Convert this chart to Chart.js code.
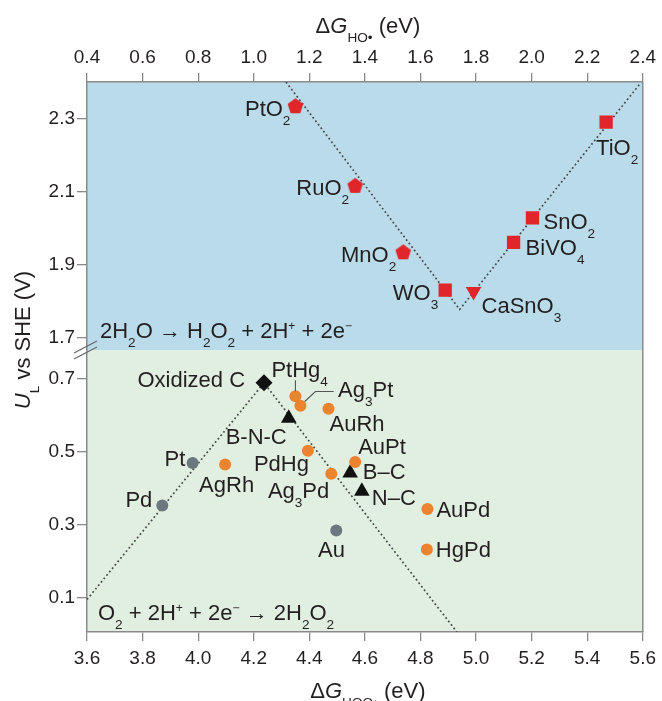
<!DOCTYPE html>
<html><head><meta charset="utf-8">
<script src="https://cdn.jsdelivr.net/npm/chart.js@4/dist/chart.umd.min.js"></script>
<style>html,body{margin:0;padding:0;background:#fff}#wrap{width:662px;height:701px;position:relative}</style>
</head><body><div id="wrap"><canvas id="c" width="662" height="701"></canvas></div>
<script>
// ---------------- data ----------------
const xTopTicks = [0.4, 0.6, 0.8, 1.0, 1.2, 1.4, 1.6, 1.8, 2.0, 2.2, 2.4];
const xBotTicks = [3.6, 3.8, 4.0, 4.2, 4.4, 4.6, 4.8, 5.0, 5.2, 5.4, 5.6];
const yTopTicks = [1.7, 1.9, 2.1, 2.3];
const yBotTicks = [0.1, 0.3, 0.5, 0.7];

// top panel: oxides, ΔG_HO* vs U_L
const pentNames = ['PtO_2', 'RuO_2', 'MnO_2'];
const pentDGHO  = [1.150, 1.365, 1.538];
const pentUL    = [2.336, 2.118, 1.936];

const squareNames = ['WO_3', 'BiVO_4', 'SnO_2', 'TiO_2'];
const squareDGHO  = [1.689, 1.935, 2.003, 2.268];
const squareUL    = [1.831, 1.962, 2.029, 2.291];

const perovNames = ['CaSnO_3'];
const perovDGHO  = [1.791];
const perovUL    = [1.827];

const oxideVolcanoDGHO = [1.116, 1.741, 2.392];
const oxideVolcanoUL   = [2.401, 1.778, 2.398];

// bottom panel: ΔG_HOO* vs U_L
const alloyNames = ['PtHg_4', 'Ag_3Pt', 'AuRh', 'PdHg', 'AgRh', 'Ag_3Pd', 'AuPt', 'AuPd', 'HgPd'];
const alloyDGHOO = [4.350, 4.368, 4.469, 4.395, 4.097, 4.479, 4.565, 4.825, 4.823];
const alloyUL    = [0.652, 0.626, 0.618, 0.503, 0.465, 0.440, 0.472, 0.343, 0.232];

const metalNames = ['Pt', 'Pd', 'Au'];
const metalDGHOO = [3.980, 3.871, 4.497];
const metalUL    = [0.469, 0.353, 0.284];

const carbonNames = ['B-N-C', 'B–C', 'N–C'];
const carbonDGHOO = [4.326, 4.547, 4.589];
const carbonUL    = [0.592, 0.442, 0.392];

const oxCNames = ['Oxidized C'];
const oxCDGHOO = [4.237];
const oxCUL    = [0.689];

const metalVolcanoDGHOO = [3.6, 4.237, 4.931];
const metalVolcanoUL    = [0.095, 0.689, 0.006];

const topReaction = '2H_2O → H_2O_2 + 2H^+ + 2e^−';
const botReaction = 'O_2 + 2H^+ + 2e^− → 2H_2O_2';
const xTopTitle = 'Δ%G%_{HO•} (eV)';
const xBotTitle = 'Δ%G%_{HOO•} (eV)';
const yTitle = '%U%_L vs SHE (V)';

// ---------------- styling ----------------
const FONT = "'Liberation Sans', Arial, sans-serif";
const TXT = '#231f20';
const RED = '#e0262b', ORANGE = '#ec832e', GREY = '#6b7880', BLACK = '#111111';
const BLUE_BG = '#b9dbea', GREEN_BG = '#e1efe1';
const AXIS = '#8a8a8a';

// label offsets (pixels, relative to marker) — presentation only
const labelPos = {
  'PtO_2': [-5, 2, 'right'], 'RuO_2': [-6, 2, 'right'], 'MnO_2': [-7, 2.5, 'right'],
  'WO_3': [-7, 2, 'right'], 'CaSnO_3': [8, 13, 'left'], 'BiVO_4': [12, 5, 'left'],
  'SnO_2': [11, 3, 'left'], 'TiO_2': [-10, 25, 'left'],
  'Oxidized C': [-19, -3.5, 'right'], 'PtHg_4': [-24, -27, 'left'], 'Ag_3Pt': [37.6, -17, 'left'],
  'AuRh': [1, 14, 'left'], 'B-N-C': [-2, 18, 'right'], 'PdHg': [1, 12, 'right'],
  'AgRh': [1.5, 20, 'center'], 'Ag_3Pd': [-2, 16, 'right'], 'AuPt': [3, -16, 'left'],
  'B–C': [12.6, -1.6, 'left'], 'N–C': [10, 6, 'left'], 'AuPd': [9, 0, 'left'],
  'HgPd': [9, 0, 'left'], 'Au': [-4.7, 18, 'center'], 'Pt': [-7.3, -5, 'right'], 'Pd': [-10, -6, 'right']
};
const leaders = {
  'PtHg_4': [[0, -5], [0, -16]],
  'Ag_3Pt': [[4.3, -4.3], [15, -14.3], [33.3, -14.3]]
};

function parseRich(s) {
  const out = []; let buf = ''; let ital = false; let i = 0;
  const flush = () => { if (buf) { out.push({t: buf, k: 'n', it: ital}); buf = ''; } };
  while (i < s.length) {
    const c = s[i];
    if (c === '%') { flush(); ital = !ital; i++; continue; }
    if (c === '_' || c === '^') {
      flush();
      let seg;
      if (s[i + 1] === '{') { const j = s.indexOf('}', i + 2); seg = s.slice(i + 2, j); i = j + 1; }
      else { seg = s[i + 1]; i += 2; }
      out.push({t: seg, k: c === '_' ? 'sub' : 'sup', it: false});
      continue;
    }
    buf += c; i++;
  }
  flush();
  return out;
}
function segFont(seg, size) {
  const sz = seg.k === 'n' ? size : (seg.k === 'sub' ? size * 0.62 : size * 0.55);
  return (seg.it ? 'italic ' : '') + sz.toFixed(1) + 'px ' + FONT;
}
function drawRich(ctx, str, x, yMid, align, size, color) {
  const segs = parseRich(str);
  let w = 0;
  for (const s of segs) { ctx.font = segFont(s, size); s.w = ctx.measureText(s.t).width; w += s.w; }
  let cx = align === 'right' ? x - w : (align === 'center' ? x - w / 2 : x);
  const base = yMid + 0.36 * size;
  ctx.fillStyle = color; ctx.textAlign = 'left'; ctx.textBaseline = 'alphabetic';
  for (const s of segs) {
    ctx.font = segFont(s, size);
    const by = s.k === 'n' ? base : (s.k === 'sub' ? base + 0.42 * size : base - 0.36 * size);
    ctx.fillText(s.t, cx, by);
    cx += s.w;
  }
}

function makePentagon(color, R) {
  const s = Math.ceil(2 * R + 2);
  const c = document.createElement('canvas'); c.width = s; c.height = s;
  const g = c.getContext('2d'); g.fillStyle = color; g.beginPath();
  const cx = s / 2, cy = s / 2 + 0.095 * R;
  for (let k = 0; k < 5; k++) {
    const a = -Math.PI / 2 + k * 2 * Math.PI / 5;
    const px = cx + R * Math.cos(a), py = cy + R * Math.sin(a);
    if (k) g.lineTo(px, py); else g.moveTo(px, py);
  }
  g.closePath(); g.fill();
  return c;
}
const pentagon = makePentagon(RED, 8.2);

const zip = (xs, ys) => xs.map((x, i) => ({x, y: ys[i]}));

function pointSet(names, xs, ys, style, color, radius, xId, yId, rotation) {
  return {
    names, data: zip(xs, ys), xAxisID: xId, yAxisID: yId,
    pointStyle: style, pointRadius: radius, pointHoverRadius: radius,
    pointRotation: rotation || 0,
    backgroundColor: color, borderColor: color, borderWidth: 0, showLine: false, order: 0
  };
}
function lineSet(xs, ys, xId, yId) {
  return {
    data: zip(xs, ys), xAxisID: xId, yAxisID: yId, showLine: true,
    pointRadius: 0, borderColor: '#4a4a4a', borderWidth: 1.7, borderDash: [1.8, 2.6],
    fill: false, order: 10
  };
}

const datasets = [
  lineSet(oxideVolcanoDGHO, oxideVolcanoUL, 'xTop', 'yTop'),
  lineSet(metalVolcanoDGHOO, metalVolcanoUL, 'xBot', 'yBot'),
  pointSet(pentNames, pentDGHO, pentUL, pentagon, RED, 7, 'xTop', 'yTop'),
  pointSet(squareNames, squareDGHO, squareUL, 'rect', RED, 9.4, 'xTop', 'yTop'),
  pointSet(perovNames, perovDGHO, perovUL, 'triangle', RED, 9, 'xTop', 'yTop', 180),
  pointSet(alloyNames, alloyDGHOO, alloyUL, 'circle', ORANGE, 6, 'xBot', 'yBot'),
  pointSet(metalNames, metalDGHOO, metalUL, 'circle', GREY, 6, 'xBot', 'yBot'),
  pointSet(carbonNames, carbonDGHOO, carbonUL, 'triangle', BLACK, 9, 'xBot', 'yBot'),
  pointSet(oxCNames, oxCDGHOO, oxCUL, 'rectRot', BLACK, 8.5, 'xBot', 'yBot')
];

function ticksFrom(arr) {
  return (scale) => { scale.ticks = arr.map(v => ({value: v})); };
}
const tickFont = {family: FONT, size: 19};
function xScale(pos, min, max, arr, height, pad) {
  return {
    type: 'linear', position: pos, min, max,
    afterBuildTicks: ticksFrom(arr),
    afterFit: (s) => { s.height = height; },
    ticks: {font: tickFont, color: TXT, padding: pad, maxRotation: 0, autoSkip: false,
      callback: (v) => Number(v).toFixed(1)},
    grid: {drawOnChartArea: false, drawTicks: true, tickLength: 9, color: AXIS, lineWidth: 1.3},
    border: {display: true, color: AXIS, width: 1.5}
  };
}
function yScale(min, max, arr, weight) {
  return {
    type: 'linear', position: 'left', min, max, stack: 'ul', stackWeight: weight,
    afterBuildTicks: ticksFrom(arr),
    afterFit: (s) => { s.width = 87; },
    ticks: {font: tickFont, color: TXT, padding: 2, autoSkip: false,
      callback: (v) => Number(v).toFixed(1)},
    grid: {drawOnChartArea: false, drawTicks: true, tickLength: 10, color: AXIS, lineWidth: 1.3},
    border: {display: true, color: AXIS, width: 1.5}
  };
}

const decor = {
  id: 'decor',
  beforeDraw(chart) {
    const {ctx, chartArea: a, scales} = chart;
    ctx.save();
    ctx.fillStyle = '#fff'; ctx.fillRect(0, 0, chart.width, chart.height);
    ctx.fillStyle = BLUE_BG;
    ctx.fillRect(a.left, scales.yTop.top, a.right - a.left, scales.yTop.bottom - scales.yTop.top);
    ctx.fillStyle = GREEN_BG;
    ctx.fillRect(a.left, scales.yBot.top, a.right - a.left, scales.yBot.bottom - scales.yBot.top);
    ctx.restore();
  },
  afterDatasetsDraw(chart) {
    const {ctx} = chart;
    ctx.save();
    chart.data.datasets.forEach((ds) => {
      if (!ds.names) return;
      const xs = chart.scales[ds.xAxisID], ys = chart.scales[ds.yAxisID];
      ds.names.forEach((nm, i) => {
        const px = xs.getPixelForValue(ds.data[i].x), py = ys.getPixelForValue(ds.data[i].y);
        const lp = labelPos[nm] || [8, 0, 'left'];
        drawRich(ctx, nm, px + lp[0], py + lp[1], lp[2], 22, TXT);
        if (leaders[nm]) {
          ctx.beginPath(); ctx.strokeStyle = '#555'; ctx.lineWidth = 1.1;
          leaders[nm].forEach((p, k) => { if (k) ctx.lineTo(px + p[0], py + p[1]); else ctx.moveTo(px + p[0], py + p[1]); });
          ctx.stroke();
        }
      });
    });
    ctx.restore();
  },
  afterDraw(chart) {
    const {ctx, chartArea: a, scales} = chart;
    ctx.save();
    // right frame
    ctx.strokeStyle = AXIS; ctx.lineWidth = 1.5;
    ctx.beginPath(); ctx.moveTo(a.right, a.top); ctx.lineTo(a.right, a.bottom); ctx.stroke();
    // axis break marks
    const by = scales.yTop.bottom;
    ctx.strokeStyle = '#666'; ctx.lineWidth = 1.2;
    ctx.beginPath(); ctx.moveTo(a.left - 13, by + 9); ctx.lineTo(a.left + 10, by - 3); ctx.stroke();
    ctx.beginPath(); ctx.moveTo(a.left - 13, by + 3); ctx.lineTo(a.left + 10, by - 9); ctx.stroke();
    // reactions
    drawRich(ctx, topReaction, a.left + 13, scales.yTop.bottom - 20, 'left', 22, TXT);
    drawRich(ctx, botReaction, a.left + 11, scales.yBot.bottom - 20, 'left', 22, TXT);
    // axis titles
    const cx = (a.left + a.right) / 2 + 3;
    drawRich(ctx, xTopTitle, cx, 25, 'center', 22, TXT);
    drawRich(ctx, xBotTitle, cx, 690, 'center', 22, TXT);
    ctx.translate(22, 340); ctx.rotate(-Math.PI / 2);
    drawRich(ctx, yTitle, 0, 0, 'center', 22, TXT);
    ctx.restore();
  }
};

new Chart(document.getElementById('c'), {
  type: 'scatter',
  data: {datasets},
  options: {
    responsive: false, devicePixelRatio: 1, animation: false,
    layout: {padding: {left: 0, right: 16, top: 0, bottom: 0}},
    plugins: {legend: {display: false}, tooltip: {enabled: false}},
    scales: {
      xTop: xScale('top', 0.4, 2.4, xTopTicks, 82, 4),
      xBot: xScale('bottom', 3.6, 5.6, xBotTicks, 69, 6),
      yBot: yScale(0.006, 0.779, yBotTicks, 282),
      yTop: yScale(1.667, 2.401, yTopTicks, 268)
    }
  },
  plugins: [decor]
});
</script>
</body></html>
